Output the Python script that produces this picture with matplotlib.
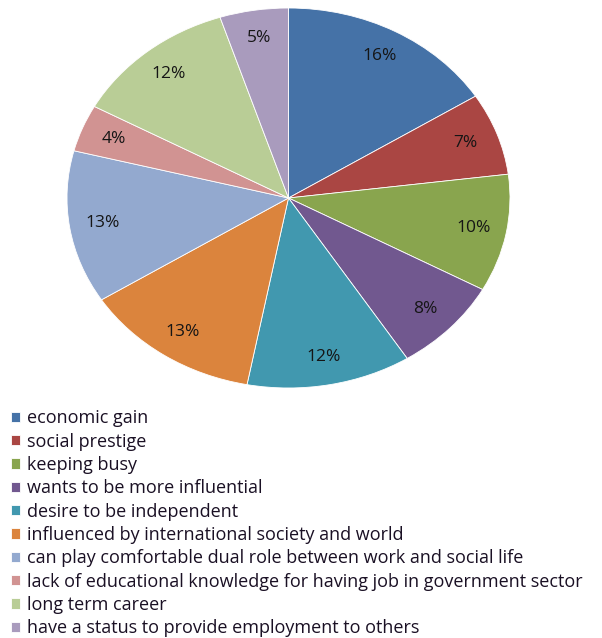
import matplotlib.pyplot as plt

# motives and their share (%)
reasons = [
    "economic gain",
    "social prestige",
    "keeping busy",
    "wants to be more influential",
    "desire to be independent",
    "influenced by international society and world",
    "can play comfortable dual role between work and social life",
    "lack of educational knowledge for having job in government sector",
    "long term career",
    "have a status to provide employment to others",
]
shares = [16, 7, 10, 8, 12, 13, 13, 4, 12, 5]
colors = ["#4572A7", "#AA4643", "#89A54E", "#71588F", "#4198AF",
          "#DB843D", "#93A9CF", "#D19392", "#B9CD96", "#A99BBD"]

plt.rcParams["font.family"] = ["Open Sans", "DejaVu Sans"]

fig = plt.figure(figsize=(6.02, 6.38), dpi=100)
ax = fig.add_axes([67 / 602, 1 - 388 / 638, 443 / 602, 380 / 638])

wedges, texts, autotexts = ax.pie(
    shares, colors=colors, startangle=90, counterclock=False,
    autopct="%d%%", pctdistance=0.85, radius=1,
    wedgeprops=dict(edgecolor="white", linewidth=0.6),
    textprops=dict(fontsize=12.5, color="#151515"),
)
# stretch the pie to fill the box (slightly oval)
ax.set_aspect("auto")
ax.set_xlim(-1, 1)
ax.set_ylim(-1, 1)

fig.legend(wedges, reasons, loc="upper left", bbox_to_anchor=(4 / 602, 1 - 402 / 638),
           frameon=False, fontsize=13.0, handlelength=0.5, handleheight=0.5,
           handletextpad=0.35, labelspacing=0.295, borderaxespad=0,
           labelcolor="#1a1024")

fig.savefig("out.png", dpi=100)
